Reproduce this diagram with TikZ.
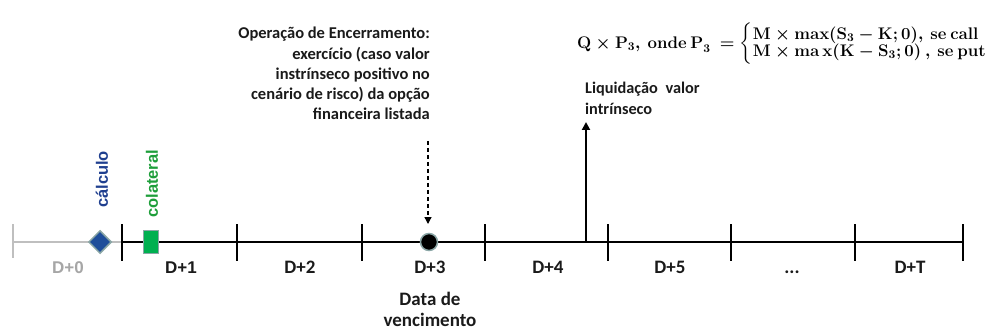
\RequirePackage{fix-cm}
\documentclass[tikz,border=0pt]{standalone}
\usepackage{amsmath}
\usepackage{fontspec}
\setmainfont{Carlito}
\newfontfamily\arialf{Liberation Sans}
\usetikzlibrary{shapes.geometric,arrows.meta}
\definecolor{axisgray}{HTML}{BFBFBF}
\definecolor{labgray}{HTML}{A6A6A6}
\definecolor{calcblue}{HTML}{1F3F8F}
\definecolor{diamblue}{HTML}{1F4E9A}
\definecolor{colgreen}{HTML}{1E9E3A}
\definecolor{sqgreen}{HTML}{00B050}
\definecolor{edgegray}{HTML}{8AA6A6}
\definecolor{txt}{HTML}{1A1A1A}
\tikzset{
  axisline/.style={line width=2.6pt, black},
  grayline/.style={line width=2.6pt, axisgray},
  cal/.style={font=\bfseries\fontsize{16.5}{20.3}\selectfont, text=txt, inner sep=0pt},
  arl/.style={font=\arialf\bfseries\fontsize{17}{20}\selectfont, inner sep=0pt},
  daylab/.style={font=\bfseries\fontsize{19}{22}\selectfont, text=txt, inner sep=0pt, anchor=base},
  vertlab/.style={font=\arialf\bfseries\fontsize{16.5}{20}\selectfont, inner sep=0pt, rotate=90, anchor=west},
}
\begin{document}
\begin{tikzpicture}[x=1pt,y=-1pt]
\useasboundingbox (0,0) rectangle (990,331);
% timeline
\coordinate (g0) at (13,242);
\coordinate (t1) at (122,242);
\coordinate (tT) at (963,242);
\draw[grayline] (g0) -- (t1);
\draw[axisline] (t1) -- (tT);
\draw[grayline] (13,224) -- (13,258);
\foreach \x in {122,237,362,485,608,731,855,963} {
  \draw[axisline] (\x,224) -- (\x,261);
}
% markers
\node[diamond, fill=diamblue, draw=edgegray, line width=1.5pt, minimum width=23pt, minimum height=23pt, inner sep=0pt] (calc) at (100,242) {};
\node[rectangle, fill=sqgreen, draw=edgegray, line width=1.5pt, minimum width=15pt, minimum height=23pt, inner sep=0pt] (col) at (151,242) {};
\node[circle, fill=black, draw=edgegray, line width=1.5pt, minimum size=17pt, inner sep=0pt] (venc) at (429,242) {};
\node[vertlab, text=calcblue] (calclab) at (102,208) {cálculo};
\node[vertlab, text=colgreen] (collab) at (152,218) {colateral};
% day labels
\node[arl, anchor=base, text=labgray] (d0) at (68,273) {D+0};
\node[arl, anchor=base, text=txt] (d1) at (181,273) {D+1};
\node[daylab] (d2) at (300,273) {D+2};
\node[daylab] (d3) at (430,273) {D+3};
\node[daylab] (d4) at (548,273) {D+4};
\node[daylab] (d5) at (670,273) {D+5};
\node[daylab] (d6) at (792,273) {...};
\node[daylab] (dT) at (910,273) {D+T};
\node[cal, align=center, anchor=base, font=\bfseries\fontsize{19}{20.5}\selectfont] (venclab) at (430,326) {Data de\\vencimento};
% closing operation
\node[cal, align=right, anchor=base east] (oper) at (430,120) {Operação de Encerramento:\\exercício (caso valor\\instrínseco positivo no\\cenário de risco) da opção\\financeira listada};
\coordinate (dashtop) at (428,141);
\coordinate (dashend) at (428,224);
\draw[line width=1.3pt, dash pattern=on 4pt off 3pt, -{Triangle[length=7pt,width=7pt]}] (dashtop) -- (dashend);
% liquidation
\coordinate (liqbase) at (586,242);
\coordinate (liqtop) at (586,122);
\draw[line width=2.2pt, -{Triangle[length=8pt,width=8pt]}] (liqbase) -- (liqtop);
\node[cal, align=left, anchor=base west, font=\bfseries\fontsize{16.3}{21}\selectfont] (liq) at (585,115) {Liquidação\hspace{4pt} valor\\intrínseco};
% formula
\node[anchor=west, inner sep=0pt, font={\fontsize{16.8}{19}\selectfont\boldmath}] (formula) at (577,44)
 {$\mathbf{Q}\times\mathbf{P}_{\mathbf{3}}\mathbf{,\ onde\ P}_{\mathbf{3}}\ =\left\{\begin{array}{@{}l@{}}\mathbf{M}\times\mathbf{max}(\mathbf{S}_{\mathbf{3}}-\mathbf{K};\mathbf{0})\mathbf{,\ se\ call}\\[-2pt] \mathbf{M}\times\mathbf{ma\,x}(\mathbf{K}-\mathbf{S}_{\mathbf{3}};\mathbf{0})\ \mathbf{,\ se\ put}\end{array}\right.$};
\end{tikzpicture}
\end{document}
